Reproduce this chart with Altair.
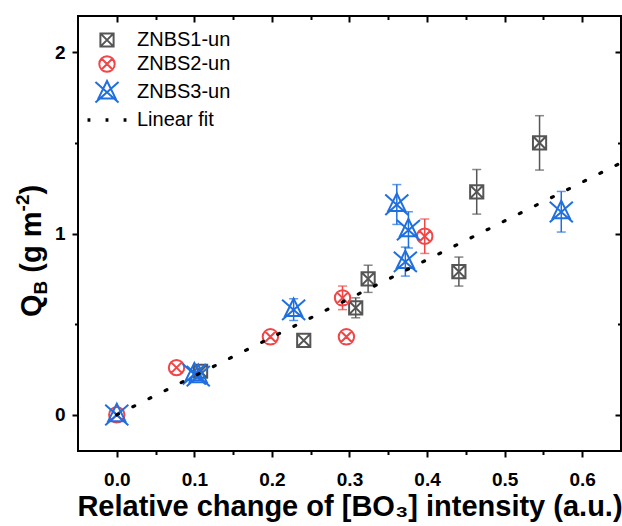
import altair as alt
import pandas as pd

# ---------------- data ----------------
series = ["ZNBS1-un", "ZNBS2-un", "ZNBS3-un", "Linear fit"]
colors = ["#555555", "#F24545", "#1F6FE0", "#000000"]

s1_x = [0.108, 0.241, 0.308, 0.324, 0.441, 0.464, 0.545]
s1_y = [0.24, 0.41, 0.59, 0.75, 0.79, 1.23, 1.50]
s1_e = [0.0, 0.0, 0.055, 0.075, 0.08, 0.123, 0.15]

s2_x = [0.0, 0.077, 0.198, 0.291, 0.296, 0.397]
s2_y = [0.0, 0.26, 0.43, 0.645, 0.43, 0.985]
s2_e = [0.0, 0.0, 0.0, 0.065, 0.0, 0.095]

s3_x = [0.0, 0.100, 0.105, 0.228, 0.361, 0.372, 0.376, 0.573]
s3_y = [0.0, 0.225, 0.215, 0.58, 1.16, 0.845, 1.02, 1.12]
s3_e = [0.0, 0.0, 0.0, 0.06, 0.11, 0.08, 0.10, 0.112]

fit_x = [0.0, 0.65]
fit_y = [0.0, 1.39]

x_ticks = [0.0, 0.1, 0.2, 0.3, 0.4, 0.5, 0.6]
x_minor = [0.05, 0.15, 0.25, 0.35, 0.45, 0.55]
y_ticks = [0, 1, 2]
y_minor = [0.5, 1.5]

x_title = "Relative change of [BO\u2083] intensity (a.u.)"
y_title_parts = ["Q", "B", "(g m", "-2", ")"]

# ---------------- build tables ----------------
FONT = "Liberation Sans"


def rows(name, xs, ys, es):
    return [{"series": name, "x": x, "y": y, "lo": y - e, "hi": y + e}
            for x, y, e in zip(xs, ys, es)]


pts = pd.DataFrame(rows(series[0], s1_x, s1_y, s1_e)
                   + rows(series[1], s2_x, s2_y, s2_e)
                   + rows(series[2], s3_x, s3_y, s3_e))
err = pts[pts["hi"] > pts["lo"]].copy()
fit = pd.DataFrame({"x": fit_x, "y": fit_y})

# marker shapes (all drawn at one common symbol size)
sq = "M-0.6,-0.6L0.6,-0.6L0.6,0.6L-0.6,0.6Z M-0.6,-0.6L0.6,0.6 M0.6,-0.6L-0.6,0.6"
ci = ("M0.7,0A0.7,0.7,0,1,1,-0.7,0A0.7,0.7,0,1,1,0.7,0Z "
      "M-0.5,-0.5L0.5,0.5 M0.5,-0.5L-0.5,0.5")
tr = "M0,-1.0L0.78,0.58L-0.78,0.58Z M-1.05,-0.9L1.05,0.95 M1.05,-0.9L-1.05,0.95"
dots = ("M-1.68,-0.06L-1.6,-0.06L-1.6,0.06L-1.68,0.06Z "
        "M-0.04,-0.06L0.04,-0.06L0.04,0.06L-0.04,0.06Z "
        "M1.6,-0.06L1.68,-0.06L1.68,0.06L1.6,0.06Z")
shapes = [sq, ci, tr, dots]

xs = alt.Scale(domain=[-0.05, 0.65], nice=False, zero=False)
ys = alt.Scale(domain=[-0.2, 2.2], nice=False, zero=False)
cscale = alt.Scale(domain=series, range=colors)
# error-bar colour scales use only the three data series (kept apart from the legend)
sscale = alt.Scale(domain=series[:3], range=colors[:3])
fscale = alt.Scale(domain=series[:3], range=colors[:3])

W, H = 543, 435

common = dict(grid=False, domain=False, tickColor="black", tickWidth=2)
ax_b = alt.Axis(orient="bottom", values=x_ticks, format=".1f", tickSize=6, labelFont=FONT,
                labelFontSize=19, labelFontWeight="bold", labelColor="black",
                labelPadding=13, labelFlush=False, title=x_title, titleFont=FONT,
                titleFontSize=29, titleFontWeight="bold", titleColor="black",
                titlePadding=3, **common)
ax_b_min = alt.Axis(orient="bottom", values=x_minor, tickSize=3.5, labels=False,
                    title=None, **common)
ax_t = alt.Axis(orient="bottom", offset=-H, values=x_ticks, tickSize=6,
                labels=False, title=None, **common)
ax_t_min = alt.Axis(orient="bottom", offset=-H, values=x_minor, tickSize=3.5,
                    labels=False, title=None, **common)
ax_l = alt.Axis(orient="left", values=y_ticks, format="d", tickSize=6, labelFont=FONT,
                labelFontSize=19, labelFontWeight="bold", labelColor="black",
                labelPadding=7, labelFlush=False, title=None, **common)
ax_l_min = alt.Axis(orient="left", values=y_minor, tickSize=3.5, labels=False,
                    title=None, **common)
ax_r = alt.Axis(orient="left", offset=-W, values=y_ticks, tickSize=6,
                labels=False, title=None, **common)
ax_r_min = alt.Axis(orient="left", offset=-W, values=y_minor, tickSize=3.5,
                    labels=False, title=None, **common)

legend = alt.Legend(title=None, orient="none", legendX=17, legendY=12, padding=0,
                    labelFont=FONT, labelFontSize=20, labelColor="black",
                    labelOffset=18, labelLimit=400, symbolStrokeWidth=2,
                    symbolSize=484, symbolOpacity=1, rowPadding=1)

rules = alt.Chart(err).mark_rule(strokeWidth=1.5).encode(
    x=alt.X("x:Q", scale=xs, axis=ax_b_min),
    y=alt.Y("lo:Q", scale=ys, axis=ax_l_min),
    y2="hi:Q",
    stroke=alt.Stroke("series:N", scale=sscale, legend=None),
)
caps_lo = alt.Chart(err).mark_tick(orient="horizontal", size=9, thickness=1.5).encode(
    x=alt.X("x:Q", scale=xs, axis=ax_t),
    y=alt.Y("lo:Q", scale=ys, axis=ax_r),
    fill=alt.Fill("series:N", scale=fscale, legend=None),
)
caps_hi = alt.Chart(err).mark_tick(orient="horizontal", size=9, thickness=1.5).encode(
    x=alt.X("x:Q", scale=xs, axis=ax_t_min),
    y=alt.Y("hi:Q", scale=ys, axis=ax_r_min),
    fill=alt.Fill("series:N", scale=fscale, legend=None),
)
points = alt.Chart(pts).mark_point(filled=False, size=484, strokeWidth=2, opacity=1).encode(
    x=alt.X("x:Q", scale=xs, axis=ax_b),
    y=alt.Y("y:Q", scale=ys, axis=ax_l),
    color=alt.Color("series:N", scale=cscale, legend=legend),
    shape=alt.Shape("series:N", scale=alt.Scale(domain=series, range=shapes), legend=legend),
)
fitline = alt.Chart(fit).mark_line(color="black", strokeDash=[2, 16], strokeCap="round",
                                   strokeWidth=3.2).encode(
    x=alt.X("x:Q", scale=xs, axis=None),
    y=alt.Y("y:Q", scale=ys, axis=None),
)

# y-axis title built from pieces (subscript / superscript)
big, small = 29, 19
wQ = 0.778 * big
wB = 0.722 * small
wsp = 0.278 * big
wgm = (0.333 + 0.611 + 0.278 + 0.889) * big
wsup = (0.333 + 0.556) * small
base_x = -37
y0 = 301
specs = [
    (y_title_parts[0], big, base_x, y0),
    (y_title_parts[1], small, base_x + 6, y0 - wQ),
    (y_title_parts[2], big, base_x, y0 - wQ - wB - wsp),
    (y_title_parts[3], small, base_x - 12, y0 - wQ - wB - wsp - wgm),
    (y_title_parts[4], big, base_x, y0 - wQ - wB - wsp - wgm - wsup),
]
title_layers = []
for txt, fs, px, py in specs:
    title_layers.append(
        alt.Chart(pd.DataFrame({"label": [txt]})).mark_text(
            angle=270, align="left", baseline="alphabetic", font=FONT,
            fontWeight="bold", fontSize=fs, color="black"
        ).encode(x=alt.value(px), y=alt.value(py), text="label:N")
    )

chart = alt.layer(rules, caps_lo, caps_hi, points, fitline, *title_layers).resolve_axis(
    x="independent", y="independent"
).properties(
    width=W, height=H,
    padding={"left": 78, "top": 16, "right": 1, "bottom": 75},
    autosize=alt.AutoSizeParams(type="none"),
).configure_view(stroke="black", strokeWidth=2)

chart.save("out.html", embed_options={"renderer": "svg", "actions": False})
